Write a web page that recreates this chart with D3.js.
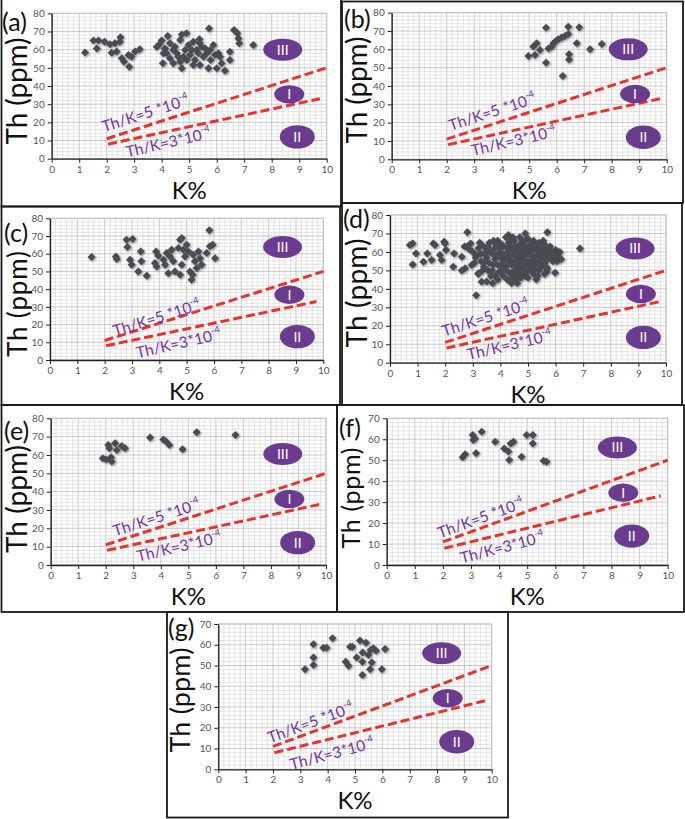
<!DOCTYPE html>
<html><head><meta charset="utf-8">
<script src="https://cdn.jsdelivr.net/npm/d3@7"></script>
<style>body{margin:0;background:#fff} svg{display:block;font-family:Lato,"Open Sans",sans-serif}</style>
</head><body><svg id="c" width="685" height="819"></svg>
<script>
// ---------- data ----------
const xTicks = [0,1,2,3,4,5,6,7,8,9,10];
const yTicks80 = [0,10,20,30,40,50,60,70,80];
const yTicks70 = [0,10,20,30,40,50,60,70];
const line5 = [[2,11],[10,50]];
const line3 = [[2.05,8],[9.75,33]];
const label5 = "Th/K=5 *10", label3 = "Th/K=3*10", labelExp = "-4";
const regionNames = ["III","I","II"];

const ptsA = [[1.21,58.5],[1.52,65],[1.7,65],[1.64,60.7],[1.92,64.4],[2.12,63],[2.18,58.3],[2.3,63.5],[2.36,59],[2.5,66.8],[2.48,64.4],[2.55,55.2],[2.63,53.4],[2.79,57],[2.82,50.6],[2.9,56.1],[3.03,59],[3.2,60.2],
[3.92,63],[4.0,65],[4.04,52.5],[4.22,67.5],[4.12,60.7],[4.18,58],[4.3,55.2],[4.42,52.5],[4.48,61.6],[4.6,56.1],[4.73,68.4],[4.73,49.7],[4.67,53.4],[4.9,69],[4.85,59.8],[4.97,62.6],[5.03,57],[5.15,64.4],[5.21,54.3],[5.27,59.8],[5.37,65.7],[5.45,61.6],[5.39,51.6],[5.52,56.1],[5.64,58],[5.72,71.7],[5.7,49.7],[5.78,54.3],[5.88,62.6],[6.0,49.7],[6.06,58],[6.12,56.1],[6.3,48.4],[6.18,52.5],[6.48,58.9],[6.48,54.3],[6.63,70.8],[6.75,69],[6.79,66.2],[6.82,63.5],[7.33,62.6],
[4.42,59.8],[4.55,58],[4.79,56.1],[4.91,54.3],[5.09,59.8],[5.33,58],[5.58,60.7],[5.15,51.6],[4.3,63.5],[3.82,61.6],[4.06,58],[4.67,65.3],[5.39,63.5],[5.76,59.8],[5.94,57]];
const ptsB = [[4.97,56.4],[5.15,61.5],[5.27,63.3],[5.21,56.9],[5.39,59.6],[5.61,71.8],[5.61,52.7],[5.7,60.5],[5.82,61.5],[5.88,63.3],[5.98,64.7],[6.06,65.5],[6.18,66.5],[6.22,45.5],[6.3,67.3],[6.42,68.4],[6.42,72.4],[6.45,57.3],[6.45,54.5],[6.73,63.3],[6.82,72],[7.21,60],[7.64,62.9]];
const ptsC = [[1.52,58.1],[2.41,58.5],[2.44,57],[2.8,67.9],[3.02,68.3],[2.83,63.8],[2.93,56.6],[2.99,53.8],[3.23,50],[3.32,61.3],[3.34,55.7],[3.54,47.5],[3.88,61.3],[3.84,54.7],[3.9,52.8],[3.96,58.9],[4.15,56.6],[4.21,53.8],[4.27,60.4],[4.33,49],[4.45,62.3],[4.51,55.7],[4.57,50],[4.7,63.2],[4.76,67.9],[4.82,68.9],[4.76,48.1],[4.82,53.8],[4.94,58.5],[5.0,65.1],[5.06,61.3],[5.12,50],[5.18,45.3],[5.22,48.1],[5.24,59.4],[5.3,55.7],[5.37,51.9],[5.43,61.3],[5.49,57.5],[5.55,53.8],[5.83,73.2],[5.73,60.4],[5.85,64.2],[5.95,65.1],[6.04,57.5],[4.88,62.3],[4.39,58.5]];
const ptsD = [[0.72,63.7],[0.82,64.6],[0.82,53.2],[0.94,59.2],[1.21,54.7],[1.35,59.2],[1.51,55.6],[1.57,64.6],[1.63,63.7],[1.81,58.3],[1.87,55.6],[1.96,65.5],[2.03,61],[1.99,64.6],[2.29,52],[2.32,59.2],[2.6,57.4],[2.72,51.1],[2.8,70.6],[2.78,62.8],[2.92,64.6],[2.96,52.9],[3.12,36.6],[3.2,48.4],[3.32,43.9],[3.72,43],[4.61,43],[5.68,49.3],[5.98,48.7],[5.7,70.6],[4.9,70],[4.29,69.1],[6.88,61.9],[6.16,56.5],
[3.0,60],[3.1,57],[3.2,62],[3.3,55],[3.3,59],[3.4,63],[3.4,52],[3.5,57],[3.5,61],[3.6,54],[3.6,65],[3.7,59],[3.7,50],[3.8,62],[3.8,56],[3.8,47],[3.9,66],[3.9,53],[4.0,60],[4.0,57],[4.0,50],[4.1,63],[4.1,55],[4.1,47],[4.2,68],[4.2,59],[4.2,52],[4.3,65],[4.3,61],[4.3,56],[4.3,49],[4.4,63],[4.4,58],[4.4,53],[4.4,46],[4.5,66],[4.5,60],[4.5,55],[4.5,50],[4.6,62],[4.6,57],[4.6,52],[4.6,47],[4.7,68],[4.7,64],[4.7,59],[4.7,54],[4.7,49],[4.8,66],[4.8,61],[4.8,56],[4.8,51],[4.9,63],[4.9,58],[4.9,53],[4.9,47],[5.0,67],[5.0,60],[5.0,55],[5.0,50],[5.1,64],[5.1,58],[5.1,52],[5.2,66],[5.2,61],[5.2,56],[5.2,48],[5.3,63],[5.3,58],[5.3,53],[5.3,45],[5.4,65],[5.4,60],[5.4,55],[5.4,50],[5.5,62],[5.5,57],[5.5,52],[5.6,64],[5.6,59],[5.6,54],[5.7,61],[5.7,56],[5.7,51],[5.8,63],[5.8,58],[5.9,60],[5.9,55],[6.0,61],[6.0,57],[6.1,59],[6.2,56],[3.2,48],[3.5,44],[3.9,45],[4.4,43],[4.6,45],[5.0,46],[5.6,48],[2.9,61],[2.7,63],[2.6,50],
[3.15,58],[3.45,55],[3.65,60],[3.95,62],[4.15,58],[4.35,54],[4.55,63],[4.75,56],[4.95,60],[5.15,55],[5.35,61],[5.55,59],[5.75,58],[4.05,64],[4.65,60],[5.25,51],[3.55,50],[3.85,58],[4.45,48],[5.05,53],
[3.05,54],[3.25,65],[3.35,50],[3.55,63],[3.75,53],[3.75,66],[3.95,49],[4.05,53],[4.25,62],[4.25,45],[4.35,67],[4.55,45],[4.65,51],[4.85,64],[4.85,48],[5.05,62],[5.15,49],[5.25,64],[5.35,47],[5.45,53],[5.45,58],[5.65,62],[5.65,52],[5.85,56],[5.95,58],[6.05,55],[6.15,60],[4.95,67],[4.45,68],[3.85,64],[3.45,59],[3.65,47],[4.15,50],[4.75,46],[5.55,66]];
const ptsE = [[1.89,58.2],[2.01,57.6],[2.09,65.5],[2.13,63.6],[2.19,58.7],[2.22,56.4],[2.34,66.4],[2.4,62.7],[2.58,64.9],[2.7,63.6],[3.61,69.5],[4.09,68.5],[4.19,67.3],[4.31,65.5],[4.79,63.1],[5.3,72.4],[6.71,70.9]];
const ptsF = [[2.7,51.4],[2.79,52.9],[3.06,62],[3.14,60.4],[3.08,59.6],[3.18,53.3],[3.38,63.6],[3.86,58.8],[4.18,55.6],[4.33,54.1],[4.36,50.1],[4.41,58],[4.51,58.8],[4.8,51.7],[4.98,62],[5.2,62],[5.2,58],[5.58,49.8],[5.69,49.3]];
const ptsG = [[3.17,48.2],[3.48,60.2],[3.48,53.9],[3.48,50.2],[3.84,58.6],[3.96,58.6],[4.18,63.1],[4.66,51.8],[4.76,49.9],[4.82,59.1],[4.9,59.1],[5.06,53.9],[5.18,62],[5.28,56.3],[5.27,51.8],[5.27,45.4],[5.4,61],[5.49,55.1],[5.55,48.2],[5.57,57.5],[5.61,51.4],[5.67,58.3],[5.77,57.1],[5.98,48.2],[6.1,57.9]];

const regionsA = [[8.4,60],[8.64,35.4],[8.93,12]];
const regionsB = [[8.6,60],[8.85,35.6],[9.15,12]];
const regionsC = [[8.51,63.8],[8.76,36.8],[9.05,13.2]];
const regionsD = [[8.88,61.9],[9.09,37.2],[9.18,13.7]];
const regionsE = [[8.43,60.5],[8.67,36],[8.97,12.2]];
const regionsF = [[8.21,56.1],[8.42,34.5],[8.72,13.8]];
const regionsG = [[8.17,55.9],[8.39,34.2],[8.72,13.3]];

// ---------- layout ----------
// title: [baseline x, centre y, length, font size]
const panels = [
 {tag:"(a)", pts:ptsA, reg:regionsA, yMax:80, yT:yTicks80, frame:[1.5,-2,341,206.5], plot:[51.7,13.3,326.7,158.7], tagPos:[2,31], title:[27,91,107,28], l5:[1.9,14.5], l3:[2.75,0.7]},
 {tag:"(b)", pts:ptsB, reg:regionsB, yMax:80, yT:yTicks80, frame:[342,1.5,683,203], plot:[391.7,12.7,666.7,159.3], tagPos:[344,28], title:[367,90,107,28], l5:[2.15,15.5], l3:[2.95,1.8]},
 {tag:"(c)", pts:ptsC, reg:regionsC, yMax:80, yT:yTicks80, frame:[1.5,206.5,340,405], plot:[50,218.3,323.3,360], tagPos:[4,242], title:[27,304,106,26], l5:[2.38,13.2], l3:[3.2,1.0]},
 {tag:"(d)", pts:ptsD, reg:regionsD, yMax:80, yT:yTicks80, frame:[342,203,682,405], plot:[390,215,666,362.7], tagPos:[343,228], title:[367,293,109,28], l5:[1.96,14], l3:[2.84,1.4]},
 {tag:"(e)", pts:ptsE, reg:regionsE, yMax:80, yT:yTicks80, frame:[1.5,405,337,612], plot:[50.7,418.3,326,565], tagPos:[4,440], title:[27,499,108,28], l5:[2.34,15.5], l3:[3.18,1.8]},
 {tag:"(f)", pts:ptsF, reg:regionsF, yMax:70, yT:yTicks70, frame:[337,405,684,612], plot:[386.7,418.3,667.7,565], tagPos:[339,437], title:[360,498,101,25], l5:[1.9,12.7], l3:[2.67,0.7]},
 {tag:"(g)", pts:ptsG, reg:regionsG, yMax:70, yT:yTicks70, frame:[167,612,508,817.5], plot:[218.3,624,491.7,769.3], tagPos:[168,637], title:[190,700,105,27], l5:[1.89,12.5], l3:[2.68,-0.3]}
];
const ellSize = [[19.5,11],[15,9.2],[17.5,11.7]];

const svg = d3.select("#c");
const defs = svg.append("defs");
const f = defs.append("filter").attr("id","sh").attr("x","-50%").attr("y","-50%").attr("width","200%").attr("height","200%");
f.append("feGaussianBlur").attr("in","SourceAlpha").attr("stdDeviation",1.1).attr("result","b");
f.append("feOffset").attr("in","b").attr("dx",0.6).attr("dy",0.6).attr("result","o");
f.append("feComponentTransfer").attr("in","o").attr("result","o2").append("feFuncA").attr("type","linear").attr("slope",0.45);
const fm = f.append("feMerge"); fm.append("feMergeNode").attr("in","o2"); fm.append("feMergeNode").attr("in","SourceGraphic");

panels.forEach(p => {
  const g = svg.append("g");
  const [L,T,R,B] = p.plot;
  const x = d3.scaleLinear([0,10],[L,R]);
  const y = d3.scaleLinear([0,p.yMax],[B,T]);
  // frame
  const [fx1,fy1,fx2,fy2] = p.frame;
  g.append("rect").attr("x",fx1).attr("y",fy1).attr("width",fx2-fx1).attr("height",fy2-fy1)
    .attr("fill","none").attr("stroke","#1a1a1a").attr("stroke-width",1.8);
  // grid
  const gx = d3.range(0,10.001,0.2), gy = d3.range(0,p.yMax+0.001,2);
  const grid = g.append("g");
  grid.selectAll("line.vx").data(gx).join("line")
    .attr("x1",d=>x(d)).attr("x2",d=>x(d)).attr("y1",T).attr("y2",B)
    .attr("stroke",d=>Math.abs(d-Math.round(d))<1e-6?"#b3b3b3":"#dadada").attr("stroke-width",0.7);
  grid.selectAll("line.hy").data(gy).join("line")
    .attr("x1",L).attr("x2",R).attr("y1",d=>y(d)).attr("y2",d=>y(d))
    .attr("stroke",d=>Math.abs(d%10)<1e-6?"#b3b3b3":"#dadada").attr("stroke-width",0.7);
  g.append("rect").attr("x",L).attr("y",T).attr("width",R-L).attr("height",B-T).attr("fill","none").attr("stroke","#bdbdbd").attr("stroke-width",0.8);
  // axes
  const ax = g.append("g").attr("transform",`translate(0,${B})`)
    .call(d3.axisBottom(x).tickValues(xTicks).tickSize(4).tickSizeOuter(0).tickPadding(3));
  const ay = g.append("g").attr("transform",`translate(${L},0)`)
    .call(d3.axisLeft(y).tickValues(p.yT).tickSize(4).tickSizeOuter(0).tickPadding(3));
  [ax,ay].forEach(a=>{
    a.select(".domain").attr("stroke","#222").attr("stroke-width",1.3);
    a.selectAll(".tick line").attr("stroke","#222");
    a.selectAll(".tick text").attr("fill","#555").style("font-size","10px").style("font-family","Lato,sans-serif");
  });
  // axis titles
  g.append("text").attr("x",(L+R)/2).attr("y",B+40).attr("text-anchor","middle")
    .style("font-size","24px").attr("fill","#111").text("K%");
  const [tbx,tcy,tlen,tfs] = p.title;
  g.append("text").attr("transform",`translate(${tbx},${tcy}) rotate(-90)`).attr("text-anchor","middle")
    .attr("textLength",tlen).attr("lengthAdjust","spacing")
    .style("font-size",tfs+"px").attr("fill","#111").text("Th (ppm)");
  // tag
  g.append("text").attr("x",p.tagPos[0]).attr("y",p.tagPos[1]).style("font-size","25px").attr("fill","#111").text(p.tag);
  // reference lines
  const ln = d3.line().x(d=>x(d[0])).y(d=>y(d[1]));
  [line5,line3].forEach(d=>{
    g.append("path").attr("d",ln(d)).attr("fill","none").attr("stroke","#e8322b")
      .attr("stroke-width",3).attr("stroke-dasharray","9,4");
  });
  // labels, each rotated to the angle of its own line
  const angOf = l => Math.atan2(y(l[1][1])-y(l[0][1]), x(l[1][0])-x(l[0][0]))*180/Math.PI;
  [[label5,p.l5,line5,0],[label3,p.l3,line3,-1]].forEach(([t,pos,l,extra])=>{
    const tx = g.append("text").attr("transform",`translate(${x(pos[0])},${y(pos[1])}) rotate(${angOf(l)+extra})`)
      .style("font-size","15.5px").attr("fill","#7434a3");
    tx.append("tspan").text(t);
    tx.append("tspan").attr("dy",-7).style("font-size","9.5px").text(labelExp);
  });
  // region ellipses
  p.reg.forEach((r,i)=>{
    g.append("ellipse").attr("cx",x(r[0])).attr("cy",y(r[1])).attr("rx",ellSize[i][0]).attr("ry",ellSize[i][1]).attr("fill","#6b3b90");
    g.append("text").attr("x",x(r[0])).attr("y",y(r[1])+5).attr("text-anchor","middle")
      .style("font-size","14px").attr("fill","#fff").text(regionNames[i]);
  });
  // points
  g.append("g").attr("filter","url(#sh)").selectAll("path").data(p.pts).join("path")
    .attr("d",d3.symbol(d3.symbolSquare,32)())
    .attr("transform",d=>`translate(${x(d[0])},${y(d[1])}) rotate(45)`)
    .attr("fill","#474c52");
});
</script></body></html>
